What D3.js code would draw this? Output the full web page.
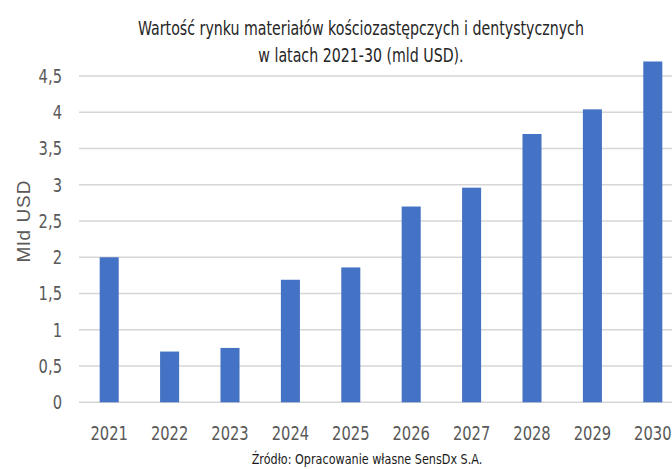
<!DOCTYPE html>
<html>
<head>
<meta charset="utf-8">
<script src="https://cdn.jsdelivr.net/npm/d3@7"></script>
<style>
  html, body { margin: 0; padding: 0; background: #fff; }
  svg { display: block; }
  text { font-family: "Liberation Sans Narrow", "DejaVu Sans Condensed", "Liberation Sans", sans-serif; }
</style>
</head>
<body>
<svg id="chart" width="672" height="469"></svg>
<script>
// Market value of bone-substitute and dental materials, 2021-2030 (bn USD)
const years = ["2021", "2022", "2023", "2024", "2025", "2026", "2027", "2028", "2029", "2030"];
const values = [2.0, 0.7, 0.75, 1.69, 1.86, 2.7, 2.96, 3.7, 4.04, 4.7];
const yTicks = [0, 0.5, 1, 1.5, 2, 2.5, 3, 3.5, 4, 4.5];
const yTickLabels = ["0", "0,5", "1", "1,5", "2", "2,5", "3", "3,5", "4", "4,5"];
const titleLines = ["Wartość rynku materiałów kościozastępczych i dentystycznych", "w latach 2021-30 (mld USD)."];
const yAxisTitle = "Mld USD";
const sourceNote = "Źródło: Opracowanie własne SensDx S.A.";

const svg = d3.select("#chart");
const W = 672;

// squeeze a text element horizontally to give a narrow face
function narrow(sel, factor) {
  sel.each(function () {
    const len = this.getComputedTextLength();
    d3.select(this)
      .attr("textLength", len * factor)
      .attr("lengthAdjust", "spacingAndGlyphs");
  });
}

const x = d3.scaleBand().domain(years).range([79, 683]).paddingInner(0.685).paddingOuter(0.3425);
const y = d3.scaleLinear().domain([0, 4.5]).range([402.3, 76]);

// gridlines
svg.append("g")
  .selectAll("line")
  .data(yTicks)
  .join("line")
  .attr("x1", 79)
  .attr("x2", W)
  .attr("y1", d => y(d))
  .attr("y2", d => y(d))
  .attr("stroke", "#d6d6d6")
  .attr("stroke-width", 1.6);

// y tick labels
svg.append("g")
  .selectAll("text")
  .data(yTicks)
  .join("text")
  .attr("x", 62)
  .attr("y", d => y(d))
  .attr("dy", "0.36em")
  .attr("text-anchor", "end")
  .attr("fill", "#595959")
  .style("font-size", "19px")
  .text((d, i) => yTickLabels[i])
  .call(narrow, 0.86);

// bars
svg.append("g")
  .selectAll("rect")
  .data(values)
  .join("rect")
  .attr("x", (d, i) => x(years[i]))
  .attr("width", x.bandwidth())
  .attr("y", d => y(d))
  .attr("height", d => y(0) - y(d))
  .attr("fill", "#4472C4");

// x labels
svg.append("g")
  .selectAll("text")
  .data(years)
  .join("text")
  .attr("x", d => x(d) + x.bandwidth() / 2)
  .attr("y", 440)
  .attr("text-anchor", "middle")
  .attr("fill", "#595959")
  .style("font-size", "19px")
  .text(d => d)
  .call(narrow, 0.86);

// title
svg.append("g")
  .selectAll("text")
  .data(titleLines)
  .join("text")
  .attr("x", 361)
  .attr("y", (d, i) => 35 + i * 27)
  .attr("text-anchor", "middle")
  .attr("fill", "#262626")
  .style("font-size", "19px")
  .text(d => d)
  .call(narrow, 0.83);

// y axis title
svg.append("text")
  .attr("transform", "translate(30,221) rotate(-90)")
  .attr("text-anchor", "middle")
  .attr("fill", "#595959")
  .style("font-family", "'Liberation Sans', 'DejaVu Sans', sans-serif")
  .style("font-size", "19px")
  .style("letter-spacing", "1px")
  .text(yAxisTitle);

// source note
svg.append("text")
  .attr("x", 367)
  .attr("y", 464)
  .attr("text-anchor", "middle")
  .attr("fill", "#1a1a1a")
  .style("font-size", "14px")
  .text(sourceNote)
  .call(narrow, 0.89);
</script>
</body>
</html>
